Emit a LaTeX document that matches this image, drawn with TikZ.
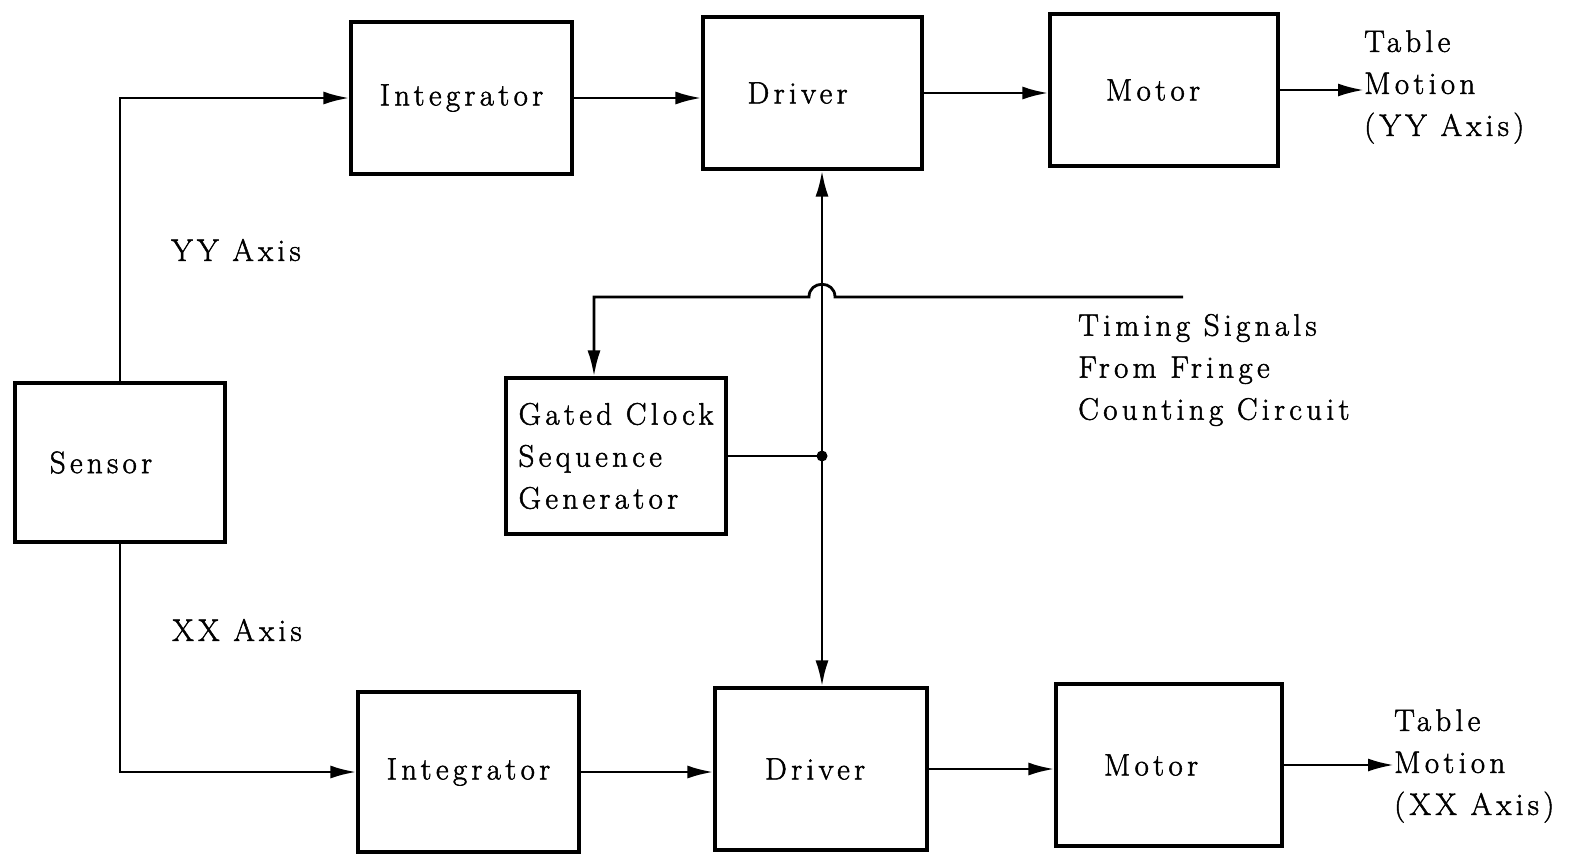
\documentclass[tikz,border=0pt]{standalone}
\usepackage{fontspec}
\setmainfont{Latin Modern Roman}[LetterSpace=14, FakeBold=1.6]
\usetikzlibrary{arrows.meta,calc}

\begin{document}
\begin{tikzpicture}[
  x=1pt, y=-1pt,
  every node/.style={font=\fontsize{31}{42}\selectfont},
  box/.style={draw, line width=3.2pt, inner sep=0pt},
  txt/.style={align=left, inner sep=0pt},
  wire/.style={line width=2.8pt},
  arr/.style={-{Latex[length=26pt,width=13pt]}, line width=2.8pt}
]
  \useasboundingbox (0,0) rectangle (1588,855);

  % YY axis row
  \node[box, minimum width=221pt, minimum height=152pt] (intY) at (461.5,98) {Integrator};
  \node[box, minimum width=219pt, minimum height=152pt] (drvY) at (812.5,93) {Driver\hspace*{30pt}};
  \node[box, minimum width=228pt, minimum height=152pt] (motY) at (1164,90) {Motor\hspace*{22pt}};
  \node[txt, anchor=west] (outY) at (1364,87) {Table\\Motion\\(YY Axis)};

  % sensor and clock
  \node[box, minimum width=210pt, minimum height=159pt] (sensor) at (120,462.5) {Sensor\hspace*{38pt}};
  \node[box, align=left, minimum width=220pt, minimum height=156pt] (clock) at (616,456)
    {Gated Clock\\Sequence\\Generator};
  \node[txt] (yylab) at (236,250) {YY Axis};
  \node[txt] (xxlab) at (237,630) {XX Axis};
  \node[txt, anchor=west] (timing) at (1078,370) {Timing Signals\\From Fringe\\Counting Circuit};

  % XX axis row
  \node[box, minimum width=221pt, minimum height=160pt] (intX) at (468.5,772) {Integrator};
  \node[box, minimum width=212pt, minimum height=162pt] (drvX) at (821,769) {Driver\hspace*{12pt}};
  \node[box, minimum width=226pt, minimum height=162pt] (motX) at (1169,765) {Motor\hspace*{36pt}};
  \node[txt, anchor=west] (outX) at (1394,766) {Table\\Motion\\(XX Axis)};

  \coordinate (jn) at (822,456);
  \coordinate (tin) at (1183,297);
  \coordinate (tc) at (594,297);

  % signal paths
  \draw[arr] (sensor.north) |- (intY.west);
  \draw[arr] (sensor.south) |- (intX.west);
  \draw[arr] (intY.east) -- (intY.east -| drvY.west);
  \draw[arr] (drvY.east) -- (drvY.east -| motY.west);
  \draw[arr] (motY.east) -- (motY.east -| outY.west);
  \draw[arr] (intX.east) -- (intX.east -| drvX.west);
  \draw[arr] (drvX.east) -- (drvX.east -| motX.west);
  \draw[arr] (motX.east) -- (motX.east -| outX.west);

  % timing and clock
  \draw[arr] (tin) -- ($(jn |- tin)+(13,0)$)
    .. controls +(0,-17) and +(0,-17) .. ($(jn |- tin)+(-13,0)$)
    -- (tc) -- (tc |- clock.north);
  \draw[wire] (clock.east |- jn) -- (jn);
  \draw[arr] (jn) -- (jn |- drvY.south);
  \draw[arr] (jn) -- (jn |- drvX.north);
  \fill (jn) circle (5.5pt);
\end{tikzpicture}
\end{document}
